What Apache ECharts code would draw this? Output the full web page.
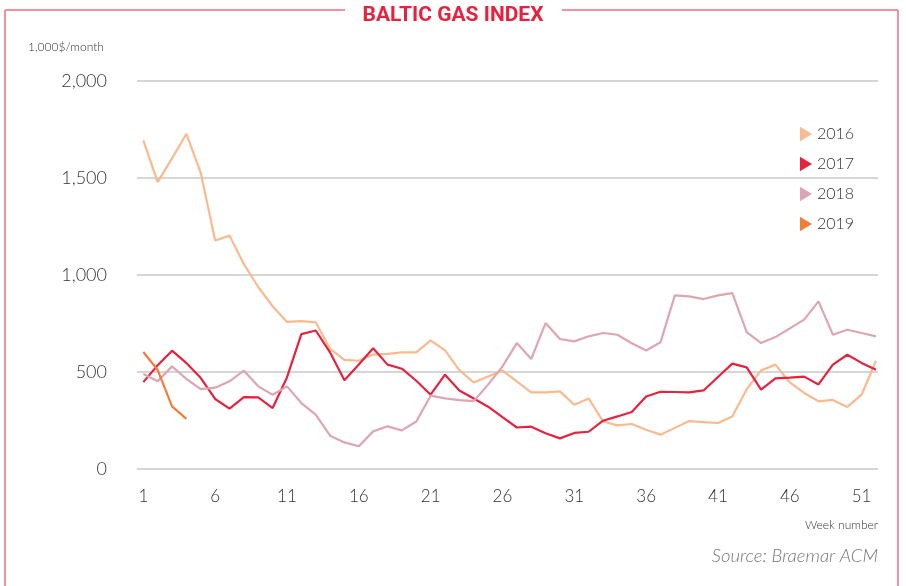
<!DOCTYPE html>
<html>
<head>
<meta charset="utf-8">
<title>Baltic Gas Index</title>
<script src="https://cdn.jsdelivr.net/npm/echarts@6/dist/echarts.min.js"></script>
<style>
  html, body { margin: 0; padding: 0; background: #fff; }
  #chart { width: 906px; height: 586px; }
</style>
</head>
<body>
<div id="chart"></div>
<script>
// weeks 1..52
let weeks = [];
for (let i = 1; i <= 52; i++) weeks.push(i);

// x axis labels shown
let weekTicks = [1, 6, 11, 16, 21, 26, 31, 36, 41, 46, 51];

// series values, 1,000$/month
let v2016 = [1694, 1479, 1601, 1728, 1526, 1178, 1203, 1056, 938, 839,
  758, 762, 756, 619, 563, 558, 590, 593, 601, 601,
  663, 611, 510, 446, 477, 507, 452, 395, 395, 400,
  331, 364, 245, 225, 232, 202, 177, 212, 247, 242,
  237, 271, 411, 508, 538, 446, 392, 349, 356, 320,
  383, 558];
let v2017 = [448, 535, 610, 546, 469, 361, 311, 371, 369, 314,
  472, 695, 714, 601, 457, 539, 622, 538, 517, 455,
  383, 486, 405, 363, 321, 267, 214, 218, 184, 158,
  186, 192, 249, 271, 294, 374, 398, 397, 395, 405,
  474, 543, 524, 409, 467, 471, 476, 436, 538, 589,
  547, 512];
let v2018 = [490, 452, 529, 464, 412, 419, 452, 507, 426, 383,
  426, 340, 280, 172, 137, 117, 194, 220, 199, 245,
  378, 364, 355, 350, 435, 529, 649, 567, 752, 670,
  658, 684, 701, 692, 648, 611, 653, 895, 890, 876,
  895, 907, 706, 649, 680, 725, 770, 864, 692, 718,
  701, 684];
let v2019 = [603, 510, 323, 258];

let seriesNames = ['2016', '2017', '2018', '2019'];
let seriesValues = [v2016, v2017, v2018, v2019];
let seriesColors = ['#f8bb8f', '#e6223f', '#dea5b2', '#f07e3b'];

let myChart = echarts.init(document.getElementById('chart'));

// 把周数和数值拼成点
function toPoints(values) {
  return values.map(function(v, i) {
    return [weeks[i], v];
  });
}

let lightFont = 'Lato, "Noto Sans", sans-serif';
let frameColor = '#f06c7c';

let option = {
  animation: false,
  backgroundColor: '#fff',
  title: {
    text: 'BALTIC GAS INDEX',
    left: 'center',
    top: 0,
    textStyle: {
      color: '#e6223f',
      fontFamily: '"Liberation Sans Narrow", "Roboto", sans-serif',
      fontWeight: 'bold',
      fontSize: 21
    }
  },
  grid: {
    left: 137,
    right: 28,
    top: 81,
    bottom: 117
  },
  legend: {
    orient: 'vertical',
    left: 795,
    top: 121,
    itemGap: 14,
    itemWidth: 12,
    itemHeight: 17,
    icon: 'path://M0,0L10,6L0,12Z',
    textStyle: {
      color: '#333',
      fontSize: 16,
      fontWeight: 300,
      fontFamily: lightFont
    },
    data: seriesNames
  },
  xAxis: {
    type: 'value',
    min: 0.56,
    max: 52.14,
    axisLine: { show: false },
    axisTick: { show: false },
    splitLine: { show: false },
    axisLabel: {
      customValues: weekTicks,
      margin: 19,
      color: '#333',
      fontSize: 17,
      fontWeight: 300,
      fontFamily: lightFont
    }
  },
  yAxis: {
    type: 'value',
    min: 0,
    max: 2000,
    interval: 500,
    name: '1,000$/month',
    nameLocation: 'end',
    nameGap: 28,
    nameTextStyle: {
      color: '#333',
      fontSize: 12,
      fontWeight: 300,
      fontFamily: lightFont,
      align: 'left',
      padding: [0, 0, 0, -109]
    },
    axisLine: { show: false },
    axisTick: { show: false },
    axisLabel: {
      margin: 30,
      color: '#333',
      fontSize: 18,
      fontWeight: 300,
      fontFamily: lightFont
    },
    splitLine: {
      lineStyle: { color: '#c8c8c8', width: 1.5 }
    }
  },
  graphic: [
    // 外框
    { type: 'line', shape: { x1: 5, y1: 10, x2: 345, y2: 10 }, style: { stroke: frameColor, lineWidth: 1.5 } },
    { type: 'line', shape: { x1: 562, y1: 10, x2: 898, y2: 10 }, style: { stroke: frameColor, lineWidth: 1.5 } },
    { type: 'line', shape: { x1: 5, y1: 10, x2: 5, y2: 586 }, style: { stroke: frameColor, lineWidth: 1.5 } },
    { type: 'line', shape: { x1: 898, y1: 10, x2: 898, y2: 586 }, style: { stroke: frameColor, lineWidth: 1.5 } },
    {
      type: 'text',
      right: 28,
      top: 519,
      style: { text: 'Week number', fill: '#333', font: '300 12px ' + lightFont }
    },
    {
      type: 'text',
      right: 28,
      top: 547,
      style: { text: 'Source: Braemar ACM', fill: '#777', font: 'italic 300 18.5px ' + lightFont }
    }
  ],
  series: seriesNames.map(function(name, i) {
    return {
      name: name,
      type: 'line',
      symbol: 'none',
      itemStyle: { color: seriesColors[i] },
      lineStyle: { color: seriesColors[i], width: 2.2 },
      data: toPoints(seriesValues[i])
    };
  })
};

myChart.setOption(option);
</script>
</body>
</html>
